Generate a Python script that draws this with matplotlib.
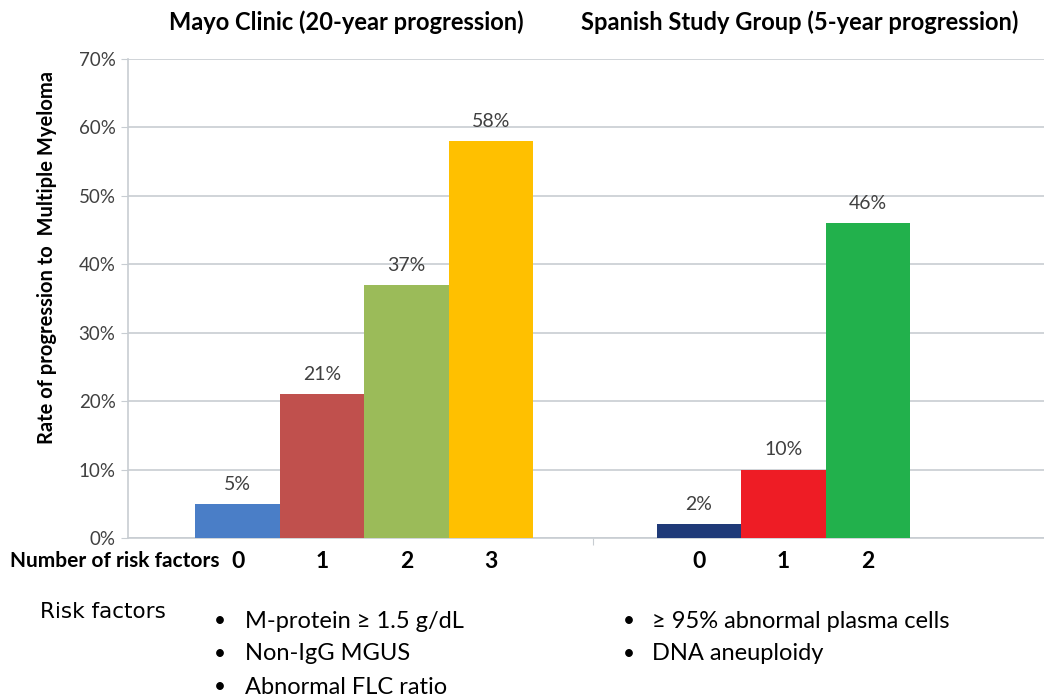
"""MGUS risk stratification: progression to multiple myeloma by risk-factor count."""

import matplotlib.pyplot as plt
import numpy as np
from matplotlib.ticker import PercentFormatter

FONT = "Lato"
plt.rcParams.update({"font.family": [FONT, "DejaVu Sans"]})

mayo_counts = ["0", "1", "2", "3"]
mayo_rates = [5, 21, 37, 58]
mayo_colors = ["#4A7EC7", "#C0504D", "#9BBB59", "#FFC000"]

spain_counts = ["0", "1", "2"]
spain_rates = [2, 10, 46]
spain_colors = ["#1F3A78", "#EE1C25", "#22B14C"]

titles = ["Mayo Clinic (20-year progression)", "Spanish Study Group (5-year progression)"]
mayo_factors = ["M-protein \u2265 1.5 g/dL", "Non-IgG MGUS", "Abnormal FLC ratio"]
spain_factors = ["\u2265 95% abnormal plasma cells", "DNA aneuploidy"]

SPAIN_OFFSET = 5.47  # bar-width units between first bars of each study
INK, GRID = "#404040", "#C8CDD2"

fig = plt.figure(figsize=(10.44, 6.96), dpi=100)
ax = fig.add_axes([128 / 1044, 1 - 538 / 696, 1 - 128 / 1044, (538 - 59) / 696])

x_mayo = np.arange(len(mayo_rates))
x_spain = np.arange(len(spain_rates)) + SPAIN_OFFSET
ax.bar(x_mayo, mayo_rates, width=1.0, color=mayo_colors, zorder=3)
ax.bar(x_spain, spain_rates, width=1.0, color=spain_colors, zorder=3)

for xs, vals in [(x_mayo, mayo_rates), (x_spain, spain_rates)]:
    for x, v in zip(xs, vals):
        ax.annotate(f"{v}%", (x, v), xytext=(0, 8), textcoords="offset points",
                    ha="center", va="bottom", fontsize=14, color=INK)

ax.set_ylim(0, 70)
ax.set_xlim(-1.30, 9.56)
ax.set_yticks(np.arange(0, 71, 10))
ax.yaxis.set_major_formatter(PercentFormatter(decimals=0))
ax.grid(axis="y", color=GRID, lw=1.2, zorder=0)
ax.tick_params(axis="y", length=5, color=GRID, labelsize=13.5, labelcolor=INK, pad=4)
ax.set_xticks([4.21])
ax.set_xticklabels([""])
ax.tick_params(axis="x", length=5, color=GRID)
for s in ["top", "right"]:
    ax.spines[s].set_visible(False)
for s in ["left", "bottom"]:
    ax.spines[s].set_color(GRID)
    ax.spines[s].set_linewidth(1.2)

ax.set_ylabel("Rate of progression to  Multiple Myeloma", fontsize=14.5,
              fontweight="bold")
ax.yaxis.set_label_coords(-0.078, 0.585)

# category digits under the axis
for xs, labs in [(x_mayo, mayo_counts), (x_spain, spain_counts)]:
    for x, lab in zip(xs, labs):
        ax.annotate(lab, (x, 0), xytext=(0, -17), textcoords="offset points",
                    ha="center", va="center", fontsize=16.5, fontweight="bold")

fig.text(10 / 1044, 1 - 561 / 696, "Number of risk factors", fontsize=15,
         fontweight="bold", va="center", ha="left")

fig.text(346 / 1044, 1 - 22 / 696, titles[0], fontsize=17, fontweight="bold",
         ha="center", va="center")
fig.text(800 / 1044, 1 - 22 / 696, titles[1], fontsize=17, fontweight="bold",
         ha="center", va="center")

fig.text(40 / 1044, 1 - 612 / 696, "Risk factors", fontsize=15.5,
         family=["Liberation Sans Narrow", "DejaVu Sans"], va="center")

for i, t in enumerate(mayo_factors):
    y = 1 - (621 + 33 * i) / 696
    fig.text(214 / 1044, y, "\u2022", fontsize=15, va="center")
    fig.text(245 / 1044, y, t, fontsize=17, va="center")
for i, t in enumerate(spain_factors):
    y = 1 - (621 + 33 * i) / 696
    fig.text(623 / 1044, y, "\u2022", fontsize=15, va="center")
    fig.text(652 / 1044, y, t, fontsize=17, va="center")

fig.savefig("out.png", dpi=100)
